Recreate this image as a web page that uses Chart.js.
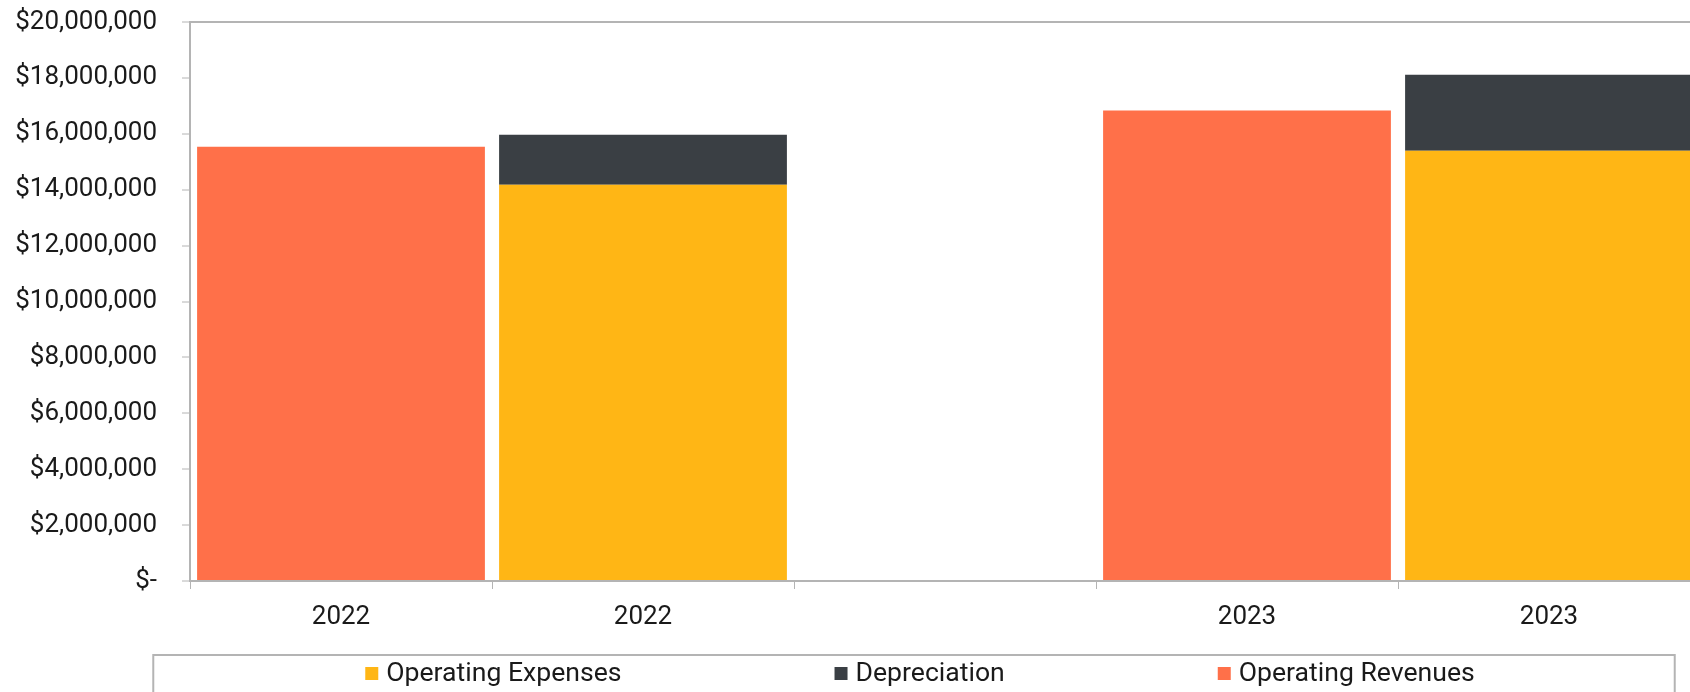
<!DOCTYPE html>
<html>
<head>
<meta charset="utf-8">
<script src="https://cdn.jsdelivr.net/npm/chart.js@4/dist/chart.umd.min.js"></script>
<style>
  html, body { margin: 0; padding: 0; background: #fff; overflow: hidden; }
  #wrap { width: 1840px; height: 692px; }
</style>
</head>
<body>
<div id="wrap"><canvas id="chart" width="1840" height="692"></canvas></div>
<script>
// categories (middle slot is an empty spacer, as in the source sheet)
const categories = ['2022', '2022', '', '2023', '2023'];

// series values
const operatingExpenses = [null, 14180000, null, null, 15390000];
const depreciation      = [null,  1790000, null, null,  2720000];
const operatingRevenues = [15540000, null, null, 16830000, null];

// y axis
const yMin = 0;
const yMax = 20000000;
const yStep = 2000000;

const AXIS_GRAY = '#b4b4b4';
const TEXT = '#1a1a1a';
const FONT = 'Roboto';
const FONT_SIZE = 26;

// Excel style boxed legend, items spread out with wide gaps
const boxedLegend = {
  id: 'boxedLegend',
  afterDraw(chart) {
    const ctx = chart.ctx;
    const sets = chart.data.datasets;
    const gap = 213, sq = 13, txtGap = 8;
    ctx.save();
    ctx.font = '26.6px ' + FONT;
    const widths = sets.map(d => sq + txtGap + ctx.measureText(d.label).width);
    const total = widths.reduce((a, b) => a + b, 0) + gap * (sets.length - 1);
    let x = chart.width / 2 - total / 2;
    const top = chart.height - 37;
    const cy = top + 18;

    ctx.strokeStyle = AXIS_GRAY;
    ctx.lineWidth = 2;
    ctx.strokeRect(x - 212, top, total + 2 * 206, 60);

    ctx.textBaseline = 'middle';
    ctx.textAlign = 'left';
    sets.forEach((d, i) => {
      ctx.fillStyle = d.backgroundColor;
      ctx.fillRect(x, cy - 6, sq, sq);
      ctx.fillStyle = TEXT;
      ctx.fillText(d.label, x + sq + txtGap, cy + 1);
      x += widths[i] + gap;
    });
    ctx.restore();
  }
};

new Chart(document.getElementById('chart'), {
  type: 'bar',
  data: {
    labels: categories,
    datasets: [
      { label: 'Operating Expenses', data: operatingExpenses, backgroundColor: '#FFB615' },
      { label: 'Depreciation', data: depreciation, backgroundColor: '#3A3F44' },
      { label: 'Operating Revenues', data: operatingRevenues, backgroundColor: '#FF7049' }
    ]
  },
  options: {
    responsive: false,
    animation: false,
    barPercentage: 0.953,
    categoryPercentage: 1.0,
    layout: { padding: { top: 22, right: 140, bottom: 51, left: 0 } },
    plugins: {
      legend: { display: false },
      tooltip: { enabled: false }
    },
    scales: {
      x: {
        stacked: true,
        grid: { drawOnChartArea: false, color: AXIS_GRAY, tickLength: 8, lineWidth: 1 },
        border: { color: AXIS_GRAY, width: 2 },
        ticks: { color: TEXT, font: { family: FONT, size: FONT_SIZE }, padding: 13, maxRotation: 0, autoSkip: false },
        afterFit(scale) { scale.height = 60; }
      },
      y: {
        stacked: true,
        min: yMin,
        max: yMax,
        grid: {
          color: c => (c.tick && c.tick.value === yMax) ? AXIS_GRAY : 'rgba(0,0,0,0)',
          lineWidth: 2,
          tickColor: AXIS_GRAY,
          tickWidth: 1,
          tickLength: 8
        },
        border: { color: AXIS_GRAY, width: 2 },
        ticks: {
          stepSize: yStep,
          color: TEXT,
          padding: 25,
          font: { family: FONT, size: FONT_SIZE },
          callback: v => v === 0 ? '$-' : '$' + v.toLocaleString('en-US')
        },
        afterFit(scale) {
          scale.width = 190;
          scale.paddingTop = 0;
          scale.paddingBottom = 0;
        }
      }
    }
  },
  plugins: [boxedLegend]
});
</script>
</body>
</html>
